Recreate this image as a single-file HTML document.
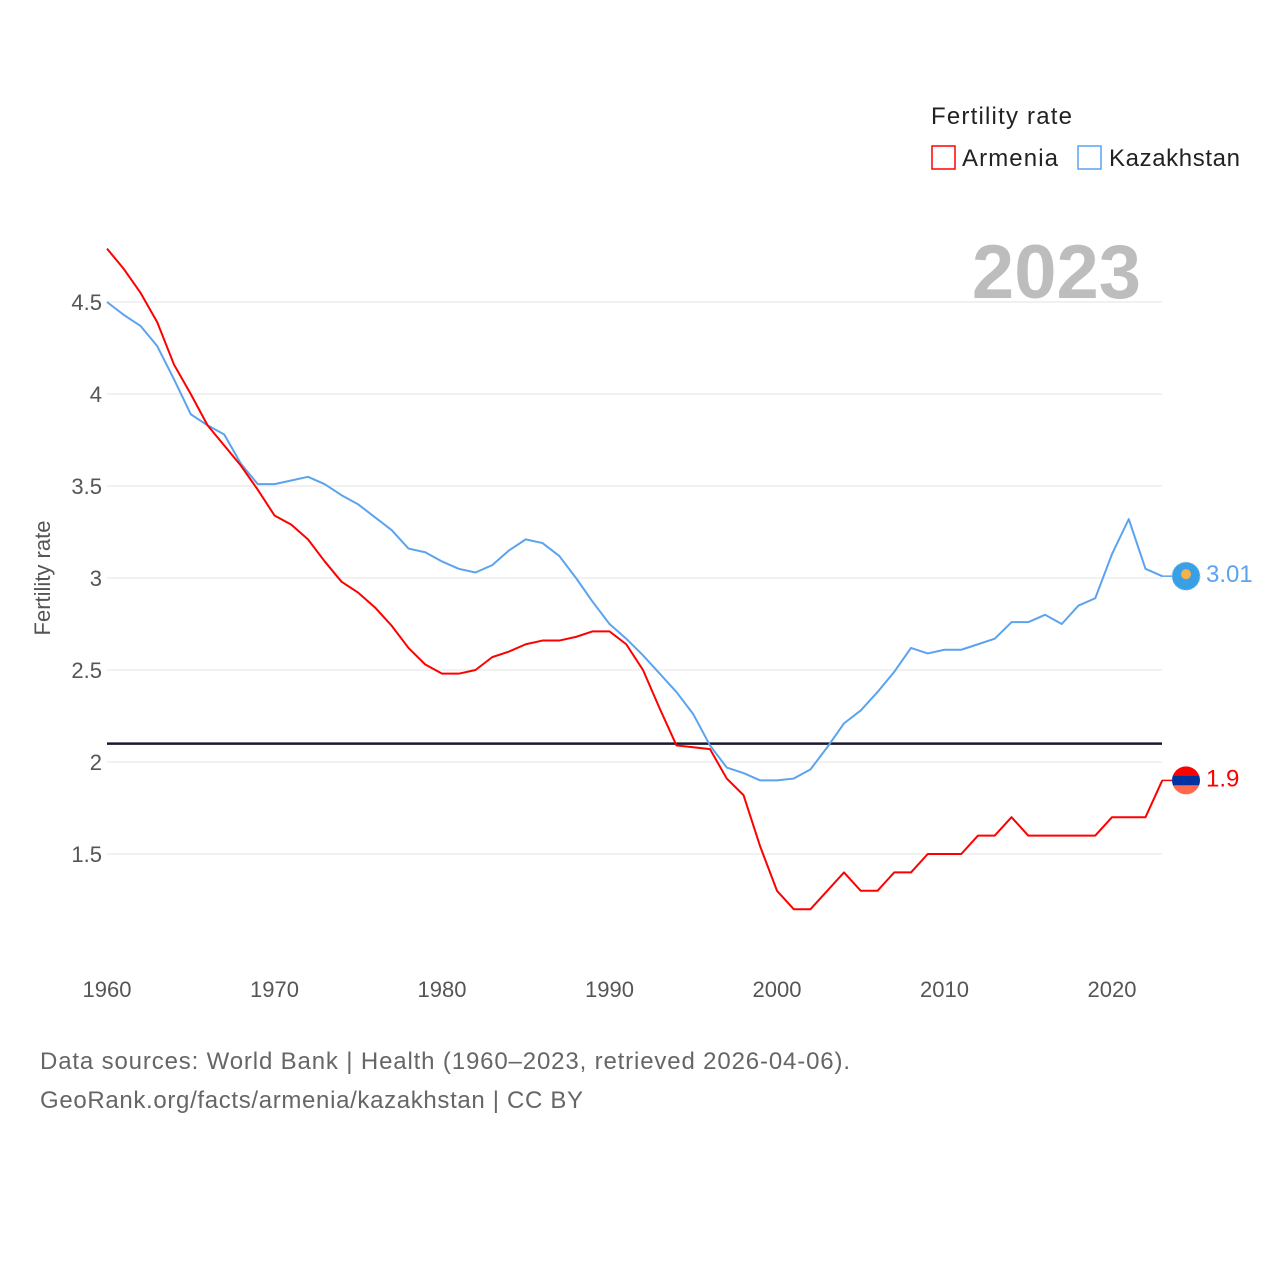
<!DOCTYPE html>
<html><head><meta charset="utf-8"><style>
body{margin:0;background:#fff;font-family:"Liberation Sans",sans-serif}
svg text{font-family:"Liberation Sans",sans-serif}
</style></head><body>
<svg id="chart" width="1280" height="1280" viewBox="0 0 1280 1280">
<g id="grid"></g>
<g id="yticks"></g>
<g id="xticks"></g>
<text x="50" y="578" transform="rotate(-90 50 578)" text-anchor="middle" font-size="22" fill="#555">Fertility rate</text>
<text x="1141" y="298" text-anchor="end" font-size="76" font-weight="bold" fill="#bdbdbd">2023</text>
<g id="series"></g>
<g>
<text x="931" y="124" font-size="24" fill="#222" textLength="141">Fertility rate</text>
<g><rect x="932" y="146" width="23" height="23" fill="none" stroke="#f00" stroke-width="1.5"/><text x="962" y="166" font-size="24" fill="#222" textLength="96">Armenia</text></g>
<g><rect x="1078" y="146" width="23" height="23" fill="none" stroke="#5ba3ef" stroke-width="1.5"/><text x="1109" y="166" font-size="24" fill="#222" textLength="131">Kazakhstan</text></g>
</g>
<text x="40" y="1069" font-size="24" fill="#666" textLength="810">Data sources: World Bank | Health (1960–2023, retrieved 2026-04-06).</text>
<text x="40" y="1108" font-size="24" fill="#666" textLength="543">GeoRank.org/facts/armenia/kazakhstan | CC BY</text>
</svg>
<script>
const years=[];for(let y=1960;y<=2023;y++)years.push(y);
const armenia=[4.79,4.68,4.55,4.39,4.16,4.0,3.83,3.72,3.61,3.48,3.34,3.29,3.21,3.09,2.98,2.92,2.84,2.74,2.62,2.53,2.48,2.48,2.5,2.57,2.60,2.64,2.66,2.66,2.68,2.71,2.71,2.64,2.5,2.29,2.09,2.08,2.07,1.91,1.82,1.54,1.30,1.20,1.20,1.30,1.40,1.3,1.3,1.4,1.4,1.5,1.5,1.5,1.6,1.6,1.7,1.6,1.6,1.6,1.6,1.6,1.7,1.7,1.7,1.9];
const kazakhstan=[4.5,4.43,4.37,4.26,4.08,3.89,3.83,3.78,3.62,3.51,3.51,3.53,3.55,3.51,3.45,3.40,3.33,3.26,3.16,3.14,3.09,3.05,3.03,3.07,3.15,3.21,3.19,3.12,3.0,2.87,2.75,2.67,2.58,2.48,2.38,2.26,2.09,1.97,1.94,1.90,1.90,1.91,1.96,2.08,2.21,2.28,2.38,2.49,2.62,2.59,2.61,2.61,2.64,2.67,2.76,2.76,2.80,2.75,2.85,2.89,3.13,3.32,3.05,3.01];
const yTicks=[1.5,2,2.5,3,3.5,4,4.5];
const xTicks=[1960,1970,1980,1990,2000,2010,2020];
const replacement=2.1;
const X=y=>107+(y-1960)*16.75;
const Y=v=>302+(4.5-v)*184;
const NS='http://www.w3.org/2000/svg';
function mk(t,a,p){const e=document.createElementNS(NS,t);for(const k in a)e.setAttribute(k,a[k]);p.appendChild(e);return e;}
const grid=document.getElementById('grid'),yt=document.getElementById('yticks'),xt=document.getElementById('xticks'),ser=document.getElementById('series');
yTicks.forEach(v=>{
 const l=mk('line',{x1:107,x2:1162,y1:Y(v),y2:Y(v),stroke:'#e3e3e3','stroke-width':1},grid);
 
 
 const t=mk('text',{x:102,y:Y(v)+8,'text-anchor':'end','font-size':22,fill:'#555'},yt);t.textContent=v;
 
 
});
xTicks.forEach(v=>{
 const t=mk('text',{x:X(v),y:997,'text-anchor':'middle','font-size':22,fill:'#555'},xt);t.textContent=v;
 
 
});
const rl=mk('line',{x1:107,x2:1162,y1:Y(replacement),y2:Y(replacement),stroke:'#1a1a2e','stroke-width':2.5},ser);


function line(data,col,name){
 const p=mk('polyline',{points:data.map((v,i)=>X(years[i])+','+Y(v)).join(' '),fill:'none',stroke:col,'stroke-width':2,'stroke-linejoin':'round'},ser);
 
 
}
line(kazakhstan,'#5ba3ef','kazakhstan-line');
line(armenia,'#f00','armenia-line');
function endLabel(data,col,name){
 const v=data[data.length-1],y=Y(v);
 const c=mk('line',{x1:1162,x2:1172,y1:y,y2:y,stroke:col,'stroke-width':1.5},ser);
 
 
 const t=mk('text',{x:1206,y:y+6,'font-size':24,fill:col},ser);t.textContent=v;
 
 
 return y;
}
const ky=endLabel(kazakhstan,'#5ba3ef','kazakhstan');
const ay=endLabel(armenia,'#f00','armenia');
const kf=mk('g',{},ser);


mk('circle',{cx:1186,cy:ky,r:14,fill:'#3aa0e6'},kf);
mk('circle',{cx:1186,cy:ky-2,r:5,fill:'#f3b24a'},kf);
mk('circle',{cx:1186,cy:ky,r:14,fill:'none',stroke:'#9cc9ee','stroke-width':1,'stroke-dasharray':'2 2'},kf);
const af=mk('g',{},ser);


mk('clipPath',{id:'ac'},af);mk('circle',{cx:1186,cy:ay,r:14},document.getElementById('ac'));
mk('rect',{x:1172,y:ay-14,width:28,height:10,fill:'#f00','clip-path':'url(#ac)'},af);
mk('rect',{x:1172,y:ay-4.5,width:28,height:9.5,fill:'#0033a0','clip-path':'url(#ac)'},af);
mk('rect',{x:1172,y:ay+5,width:28,height:10,fill:'#ff6a4d','clip-path':'url(#ac)'},af);
</script>
</body></html>
